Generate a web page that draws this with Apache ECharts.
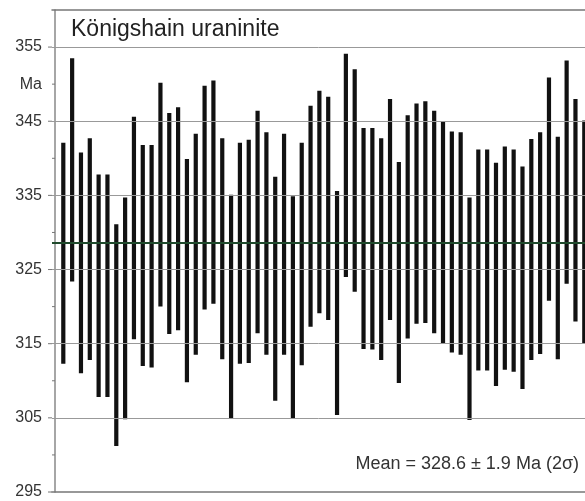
<!DOCTYPE html>
<html>
<head>
<meta charset="utf-8">
<script src="https://cdn.jsdelivr.net/npm/echarts@6/dist/echarts.min.js"></script>
<style>
  html, body { margin: 0; padding: 0; background: #fff; }
  #chart { width: 585px; height: 501px; }
</style>
</head>
<body>
<div id="chart"></div>
<script>
// analysis number (1..60)
const spots = [];
for (let i = 1; i <= 60; i++) spots.push(i);

// upper / lower ends of each 2σ age bar (Ma)
const highs = [
  342.1, 353.5, 340.8, 342.7, 337.8, 337.8, 331.1, 334.7, 345.6, 341.8,
  341.8, 350.2, 346.1, 346.9, 339.9, 343.3, 349.8, 350.5, 342.7, 335.1,
  342.1, 342.5, 346.4, 343.5, 337.5, 343.3, 334.9, 342.1, 347.1, 349.1,
  348.3, 335.6, 354.1, 352.0, 344.1, 344.1, 342.7, 348.0, 339.5, 345.8,
  347.4, 347.7, 346.4, 344.9, 343.6, 343.5, 334.7, 341.2, 341.2, 339.4,
  341.6, 341.2, 338.9, 342.6, 343.5, 350.9, 342.9, 353.2, 348.0, 345.1
];
const lows = [
  312.3, 323.4, 311.0, 312.8, 307.8, 307.8, 301.2, 304.8, 315.6, 312.0,
  311.8, 320.0, 316.3, 316.8, 309.8, 313.5, 319.6, 320.4, 312.9, 304.9,
  312.3, 312.4, 316.4, 313.5, 307.3, 313.5, 304.9, 312.1, 317.3, 319.1,
  318.2, 305.4, 324.0, 322.0, 314.3, 314.2, 312.8, 318.2, 309.7, 315.7,
  317.7, 317.8, 316.4, 315.1, 313.8, 313.5, 304.7, 311.4, 311.4, 309.3,
  311.5, 311.2, 308.9, 312.8, 313.6, 320.8, 312.9, 323.1, 318.0, 315.1
];

const meanAge = 328.6;
const gridValues = [305, 315, 325, 335, 345, 355];
const labelValues = [295, 305, 315, 325, 335, 345, 355];   // ticks pointing out
const minorValues = [300, 310, 320, 330, 340, 350];        // ticks pointing in
const unitAt = 350;
const titleText = 'Königshain uraninite';
const meanText = 'Mean = 328.6 ± 1.9 Ma (2σ)';

const chart = echarts.init(document.getElementById('chart'), null, { renderer: 'canvas' });

const barData = spots.map((s, i) => [s, lows[i], highs[i]]);

// x extent: a bit of room left of spot 1, spot 60 sits on the cut-off right edge
const xMin = -0.28, xMax = 60.08;

const tickData = labelValues.map(v => [v, -4]).concat(minorValues.map(v => [v, 3]));

chart.setOption({
  animation: false,
  backgroundColor: '#fff',
  title: {
    text: titleText,
    left: 66, top: 13,
    textStyle: { fontFamily: 'Liberation Sans, Arial, sans-serif', fontSize: 23, fontWeight: 'normal', color: '#222' }
  },
  graphic: [{
    type: 'text', right: 6, top: 455,
    style: { text: meanText, font: '18px "Liberation Sans", Arial, sans-serif', fill: '#333' }
  }],
  grid: { left: 52, right: 0, top: 10, bottom: 9 },
  xAxis: [{
    type: 'value', min: xMin, max: xMax,
    axisLine: { show: true, onZero: false, lineStyle: { color: '#777', width: 1.5 } },
    axisTick: { show: false }, axisLabel: { show: false }, splitLine: { show: false }
  }, {
    type: 'value', position: 'top', min: xMin, max: xMax,
    axisLine: { show: true, onZero: false, lineStyle: { color: '#777', width: 1.5 } },
    axisTick: { show: false }, axisLabel: { show: false }, splitLine: { show: false }
  }],
  yAxis: {
    type: 'value', min: 295, max: 360, interval: 5,
    axisLine: { show: true, lineStyle: { color: '#888', width: 1.5 } },
    axisTick: { show: false },
    axisLabel: {
      margin: 10, color: '#333', fontSize: 16,
      fontFamily: 'Liberation Sans, Arial, sans-serif',
      formatter: v => v === unitAt ? 'Ma' : (labelValues.indexOf(v) >= 0 ? String(v) : '')
    },
    splitLine: { show: false }
  },
  series: [
    {
      // horizontal gridlines behind the bars
      type: 'line', data: [], z: 1, silent: true,
      markLine: {
        symbol: 'none', silent: true, animation: false,
        label: { show: false },
        lineStyle: { color: '#999', width: 1, type: 'solid' },
        data: gridValues.map(v => ({ yAxis: v }))
      }
    },
    {
      // y-axis ticks: labelled ones outward, the in-between ones inward
      type: 'custom', z: 2, clip: false, silent: true,
      data: tickData,
      renderItem: function (params, api) {
        const p = api.coord([xMin, api.value(0)]);
        const len = api.value(1);
        return {
          type: 'line',
          shape: { x1: p[0], y1: p[1], x2: p[0] + len, y2: p[1] },
          style: { stroke: '#777', lineWidth: 1 }
        };
      }
    },
    {
      type: 'custom', z: 3, clip: true,
      data: barData,
      renderItem: function (params, api) {
        const lo = api.coord([api.value(0), api.value(1)]);
        const hi = api.coord([api.value(0), api.value(2)]);
        const w = 4.2;
        return {
          type: 'rect',
          shape: { x: lo[0] - w / 2, y: hi[1], width: w, height: lo[1] - hi[1] },
          style: { fill: '#111' }
        };
      }
    },
    {
      // weighted mean
      type: 'line', data: [], z: 4, silent: true,
      markLine: {
        symbol: 'none', silent: true, animation: false,
        label: { show: false },
        lineStyle: { color: '#1f4a2c', width: 2, type: 'solid' },
        data: [{ yAxis: meanAge }]
      }
    }
  ]
});
</script>
</body>
</html>
